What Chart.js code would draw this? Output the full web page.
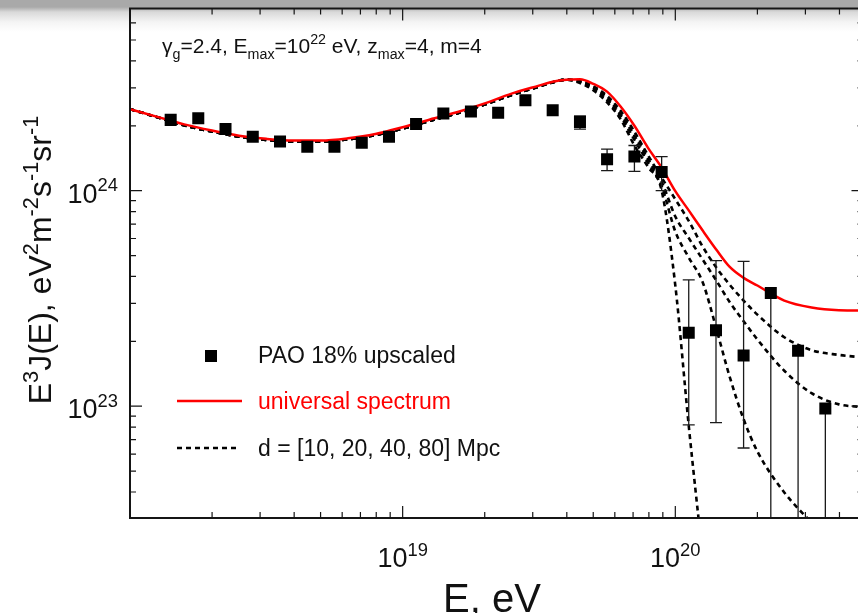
<!DOCTYPE html>
<html>
<head>
<meta charset="utf-8">
<script src="https://cdn.jsdelivr.net/npm/chart.js@4.4.1/dist/chart.umd.min.js"></script>
<style>
    html, body {
        margin: 0; padding: 0;
        width: 858px; height: 613px; overflow: hidden;
        background: linear-gradient(to bottom, #a9a9a9 0px, #a9a9a9 7px, #d9d9d9 12px, #f4f4f4 22px, #ffffff 32px);
    }
    canvas { display: block; }
</style>
</head>
<body>
<canvas id="spec" width="872" height="613"></canvas>
<script>
/* E^3 J(E) vs E — PAO points, universal spectrum and distance curves */

// PAO 18% upscaled, eV and eV^2 m^-2 s^-1 sr^-1
var paoE = [1.41e18, 1.78e18, 2.24e18, 2.82e18, 3.55e18, 4.47e18, 5.62e18, 7.08e18, 8.91e18,
            1.12e19, 1.41e19, 1.78e19, 2.24e19, 2.82e19, 3.55e19, 4.47e19, 5.62e19, 7.08e19, 8.91e19,
            1.12e20, 1.41e20, 1.78e20, 2.24e20, 2.82e20, 3.55e20];
var paoFlux = [2.13e24, 2.17e24, 1.93e24, 1.78e24, 1.69e24, 1.60e24, 1.60e24, 1.67e24, 1.78e24,
               2.04e24, 2.28e24, 2.33e24, 2.30e24, 2.63e24, 2.36e24, 2.08e24, 1.40e24, 1.44e24, 1.22e24,
               2.19e23, 2.25e23, 1.72e23, 3.35e23, 1.81e23, 9.76e22];
var paoHigh = [null, null, null, null, null, null, null, null, null,
               null, null, null, null, null, null, 2.22e24, 1.56e24, 1.62e24, 1.44e24,
               3.86e23, 4.74e23, 4.70e23, null, null, null];
var paoLow = [null, null, null, null, null, null, null, null, null,
              null, null, null, null, null, null, 1.93e24, 1.24e24, 1.23e24, 1.00e24,
              8.2e22, 8.4e22, 6.4e22, 1e21, 1e21, 1e21];

// model curves
var curveE = [1.0e18, 1.26e18, 1.58e18, 2.0e18, 2.51e18, 3.16e18, 3.98e18, 5.01e18, 6.31e18, 7.94e18,
              1.0e19, 1.26e19, 1.58e19, 2.0e19, 2.51e19, 3.16e19, 3.55e19, 3.98e19, 4.47e19, 5.01e19,
              5.62e19, 6.31e19, 7.08e19, 7.94e19, 8.91e19, 1.0e20, 1.12e20, 1.26e20, 1.41e20, 1.58e20,
              1.78e20, 2.0e20, 2.51e20, 3.16e20, 3.98e20, 5.01e20];
var universal = [2.39e24, 2.20e24, 2.03e24, 1.90e24, 1.80e24, 1.74e24, 1.71e24, 1.71e24, 1.75e24, 1.83e24,
                 1.97e24, 2.14e24, 2.31e24, 2.54e24, 2.82e24, 3.07e24, 3.20e24, 3.27e24, 3.29e24, 3.13e24,
                 2.88e24, 2.45e24, 2.00e24, 1.58e24, 1.28e24, 9.95e23, 8.10e23, 6.53e23, 5.35e23, 4.44e23,
                 3.94e23, 3.63e23, 3.09e23, 2.87e23, 2.79e23, 2.78e23];
var d10 = [2.39e24, 2.19e24, 2.01e24, 1.88e24, 1.78e24, 1.72e24, 1.69e24, 1.69e24, 1.73e24, 1.81e24,
           1.94e24, 2.11e24, 2.28e24, 2.51e24, 2.78e24, 3.04e24, 3.18e24, 3.27e24, 3.24e24, 3.05e24,
           2.75e24, 2.34e24, 1.88e24, 1.46e24, 1.15e24, 9.12e23, 7.24e23, 5.50e23, 4.42e23, 3.67e23,
           3.09e23, 2.66e23, 2.09e23, 1.82e23, 1.73e23, 1.68e23];
var d20 = [2.39e24, 2.19e24, 2.01e24, 1.88e24, 1.78e24, 1.72e24, 1.69e24, 1.69e24, 1.73e24, 1.81e24,
           1.94e24, 2.11e24, 2.28e24, 2.51e24, 2.78e24, 3.04e24, 3.18e24, 3.27e24, 3.22e24, 3.02e24,
           2.69e24, 2.26e24, 1.80e24, 1.40e24, 1.10e24, 7.59e23, 6.03e23, 4.79e23, 3.85e23, 3.05e23,
           2.48e23, 2.04e23, 1.46e23, 1.15e23, 1.02e23, 9.89e22];
var d40 = [2.39e24, 2.19e24, 2.01e24, 1.88e24, 1.78e24, 1.72e24, 1.69e24, 1.69e24, 1.73e24, 1.81e24,
           1.94e24, 2.11e24, 2.28e24, 2.51e24, 2.78e24, 3.04e24, 3.18e24, 3.27e24, 3.20e24, 2.99e24,
           2.63e24, 2.21e24, 1.72e24, 1.35e24, 1.05e24, 6.46e23, 4.90e23, 3.76e23, 2.32e23, 1.38e23,
           8.71e22, 6.17e22, 3.98e22, 2.88e22, null, null];
var d80 = [2.39e24, 2.19e24, 2.01e24, 1.88e24, 1.78e24, 1.72e24, 1.69e24, 1.69e24, 1.73e24, 1.81e24,
           1.94e24, 2.11e24, 2.28e24, 2.51e24, 2.78e24, 3.04e24, 3.18e24, 3.27e24, 3.16e24, 2.92e24,
           2.57e24, 2.14e24, 1.62e24, 1.29e24, 1.00e24, 3.63e23, 8.13e22, 2.0e22, null, null,
           null, null, null, null, null, null];

var xLabels = [1e19, 1e20];
var yLabels = [1e23, 1e24];

var FONT = "'Liberation Sans', Arial, Helvetica, sans-serif";

function pts(xs, ys) {
    return xs.map(function(e, i) { return { x: e, y: ys[i] }; });
}

// text runs: [text, 0 normal | 1 superscript | -1 subscript]
function runsWidth(ctx, runs, size) {
    var w = 0;
    runs.forEach(function(r) {
        ctx.font = (r[1] === 0 ? size : size * 0.68) + 'px ' + FONT;
        w += ctx.measureText(r[0]).width;
    });
    return w;
}
function drawRuns(ctx, runs, x, y, size) {
    var cx = x;
    runs.forEach(function(r) {
        var s = r[1] === 0 ? size : size * 0.68;
        ctx.font = s + 'px ' + FONT;
        var dy = r[1] === 1 ? -size * 0.42 : (r[1] === -1 ? size * 0.3 : 0);
        ctx.fillText(r[0], cx, y + dy);
        cx += ctx.measureText(r[0]).width;
    });
}
function powRuns(v) {
    return [['10', 0], [String(Math.round(Math.log10(v))), 1]];
}

function logTicks(min, max) {
    var out = [];
    for (var d = Math.floor(Math.log10(min)); d <= Math.ceil(Math.log10(max)); d++) {
        for (var m = 1; m <= 9; m++) {
            var v = m * Math.pow(10, d);
            if (v >= min * 0.999 && v <= max * 1.001) out.push({ v: v, major: m === 1 });
        }
    }
    return out;
}

var decor = {
    id: 'decor',
    // error bars go under the squares
    beforeDatasetDraw: function(chart, args) {
        if (args.index !== 0) return;
        var ctx = chart.ctx, a = chart.chartArea, sx = chart.scales.x, sy = chart.scales.y;
        ctx.save();
        ctx.beginPath();
        ctx.rect(a.left, a.top, a.right - a.left, a.bottom - a.top);
        ctx.clip();
        ctx.strokeStyle = '#1a1a1a';
        ctx.lineWidth = 1.3;
        paoE.forEach(function(e, i) {
            if (paoLow[i] === null && paoHigh[i] === null) return;
            var px = sx.getPixelForValue(e);
            var top = sy.getPixelForValue(paoHigh[i] !== null ? paoHigh[i] : paoFlux[i]);
            var bot = sy.getPixelForValue(paoLow[i] !== null ? paoLow[i] : paoFlux[i]);
            ctx.beginPath();
            ctx.moveTo(px, top); ctx.lineTo(px, bot);
            if (paoHigh[i] !== null) { ctx.moveTo(px - 6, top); ctx.lineTo(px + 6, top); }
            if (paoLow[i] !== null) { ctx.moveTo(px - 6, bot); ctx.lineTo(px + 6, bot); }
            ctx.stroke();
        });
        ctx.restore();
    },
    afterDraw: function(chart) {
        var ctx = chart.ctx, a = chart.chartArea, sx = chart.scales.x, sy = chart.scales.y;
        var ds = chart.data.datasets;
        ctx.save();

        // frame
        ctx.strokeStyle = '#151515';
        ctx.lineWidth = 2;
        ctx.strokeRect(a.left, a.top, a.right - a.left, a.bottom - a.top);

        // inward ticks on all four sides
        ctx.lineWidth = 1.2;
        ctx.beginPath();
        logTicks(sx.min, sx.max).forEach(function(t) {
            var px = sx.getPixelForValue(t.v), len = t.major ? 12 : 6;
            ctx.moveTo(px, a.bottom); ctx.lineTo(px, a.bottom - len);
            ctx.moveTo(px, a.top); ctx.lineTo(px, a.top + len);
        });
        logTicks(sy.min, sy.max).forEach(function(t) {
            var py = sy.getPixelForValue(t.v), len = t.major ? 12 : 6;
            ctx.moveTo(a.left, py); ctx.lineTo(a.left + len, py);
            ctx.moveTo(a.right, py); ctx.lineTo(a.right - len, py);
        });
        ctx.stroke();

        ctx.fillStyle = '#111';
        ctx.textAlign = 'left';
        ctx.textBaseline = 'alphabetic';

        // tick labels
        xLabels.forEach(function(v) {
            var r = powRuns(v), w = runsWidth(ctx, r, 27);
            drawRuns(ctx, r, sx.getPixelForValue(v) - w / 2, a.bottom + 49, 27);
        });
        yLabels.forEach(function(v) {
            var r = powRuns(v), w = runsWidth(ctx, r, 27);
            drawRuns(ctx, r, a.left - 12 - w, sy.getPixelForValue(v) + 12, 27);
        });

        // axis titles
        var xt = [['E, eV', 0]];
        drawRuns(ctx, xt, 492 - runsWidth(ctx, xt, 40) / 2, 612, 40);

        var yt = [['E', 0], ['3', 1], ['J(E), eV', 0], ['2', 1], ['m', 0], ['-2', 1],
                  ['s', 0], ['-1', 1], ['sr', 0], ['-1', 1]];
        ctx.save();
        ctx.translate(51, 260 + runsWidth(ctx, yt, 32) / 2);
        ctx.rotate(-Math.PI / 2);
        drawRuns(ctx, yt, 0, 0, 32);
        ctx.restore();

        // parameters
        drawRuns(ctx, [['\u03b3', 0], ['g', -1], ['=2.4, E', 0], ['max', -1], ['=10', 0], ['22', 1],
                       [' eV, z', 0], ['max', -1], ['=4, m=4', 0]], 162, 53, 21);

        // legend
        ctx.fillStyle = ds[0].backgroundColor;
        ctx.fillRect(205, 350, 12, 12);
        ctx.lineWidth = ds[1].borderWidth;
        ctx.strokeStyle = ds[1].borderColor;
        ctx.beginPath(); ctx.moveTo(177, 401); ctx.lineTo(242, 401); ctx.stroke();
        ctx.lineWidth = ds[2].borderWidth;
        ctx.strokeStyle = ds[2].borderColor;
        ctx.setLineDash(ds[2].borderDash);
        ctx.beginPath(); ctx.moveTo(177, 448); ctx.lineTo(240, 448); ctx.stroke();
        ctx.setLineDash([]);

        ctx.fillStyle = '#111';
        drawRuns(ctx, [[ds[0].label, 0]], 258, 363, 23);
        ctx.fillStyle = ds[1].borderColor;
        drawRuns(ctx, [[ds[1].label, 0]], 258, 409, 23);
        ctx.fillStyle = '#111';
        drawRuns(ctx, [['d = [10, 20, 40, 80] Mpc', 0]], 258, 456, 23);

        ctx.restore();
    }
};

function dashed(label, ys) {
    return {
        label: label,
        data: pts(curveE, ys),
        borderColor: '#000000',
        borderWidth: 2.6,
        borderDash: [5, 4],
        pointRadius: 0,
        fill: false,
        cubicInterpolationMode: 'monotone',
        order: 2
    };
}

new Chart(document.getElementById('spec'), {
    type: 'line',
    data: {
        datasets: [
            {
                label: 'PAO 18% upscaled',
                data: pts(paoE, paoFlux),
                showLine: false,
                pointStyle: 'rect',
                pointRadius: 8.5,
                pointBorderWidth: 0,
                backgroundColor: '#000000',
                borderColor: '#000000',
                order: 0
            },
            {
                label: 'universal spectrum',
                data: pts(curveE, universal),
                borderColor: '#ff0000',
                borderWidth: 2.5,
                pointRadius: 0,
                fill: false,
                cubicInterpolationMode: 'monotone',
                order: 1
            },
            dashed('d = 10 Mpc', d10),
            dashed('d = 20 Mpc', d20),
            dashed('d = 40 Mpc', d40),
            dashed('d = 80 Mpc', d80)
        ]
    },
    options: {
        responsive: false,
        animation: false,
        events: [],
        layout: { padding: { left: 130, top: 8, right: 8, bottom: 95 } },
        plugins: { legend: { display: false }, tooltip: { enabled: false } },
        scales: {
            x: { type: 'logarithmic', min: 1e18, max: 4.9e20, display: false },
            y: { type: 'logarithmic', min: 3.03e22, max: 7e24, display: false }
        }
    },
    plugins: [decor]
});
</script>
</body>
</html>
